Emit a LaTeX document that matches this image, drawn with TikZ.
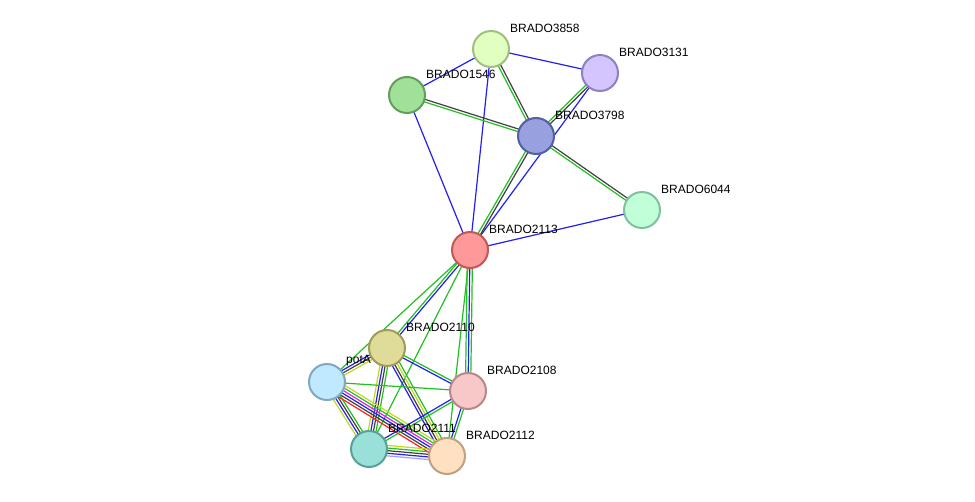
\documentclass[tikz,border=0pt]{standalone}
\usepackage{fontspec}
\setmainfont{Liberation Sans}
\usetikzlibrary{calc,backgrounds}
\definecolor{Ered}{HTML}{FF2020}
\definecolor{Eyel}{HTML}{C0D820}
\definecolor{Egre}{HTML}{20C020}
\definecolor{Eblu}{HTML}{2020F0}
\definecolor{Elbl}{HTML}{A0A0FF}
\definecolor{Emag}{HTML}{E020E0}
\definecolor{Eblk}{HTML}{404040}
% node fill / border
\definecolor{Fa}{HTML}{E0FFC0}\definecolor{Da}{HTML}{A0C080}
\definecolor{Fb}{HTML}{D4C4FF}\definecolor{Db}{HTML}{9080C0}
\definecolor{Fc}{HTML}{A0E098}\definecolor{Dc}{HTML}{60A058}
\definecolor{Fd}{HTML}{98A0E0}\definecolor{Dd}{HTML}{5060A0}
\definecolor{Fe}{HTML}{C0FFD8}\definecolor{De}{HTML}{80C0A0}
\definecolor{Ff}{HTML}{FF9898}\definecolor{Df}{HTML}{C05858}
\definecolor{Fg}{HTML}{DEDC98}\definecolor{Dg}{HTML}{A09C58}
\definecolor{Fh}{HTML}{C0E8FF}\definecolor{Dh}{HTML}{80A8C0}
\definecolor{Fi}{HTML}{F8C8C8}\definecolor{Di}{HTML}{B88888}
\definecolor{Fj}{HTML}{98E0D8}\definecolor{Dj}{HTML}{58A098}
\definecolor{Fk}{HTML}{FFE0C0}\definecolor{Dk}{HTML}{C0A080}
\tikzset{
  prot/.style={circle, minimum size=36pt, inner sep=0pt, line width=2pt, fill=F#1, draw=D#1},
  lbl/.style={font=\fontsize{12}{14}\selectfont, anchor=south west, inner sep=0pt}
}
% parallel links between two proteins
\newcommand\plink[3]{%
  \foreach \cc [count=\i] in {#3} {
    \pgfmathsetmacro\off{(\i-(\numcol+1)/2)*2.6}
    \draw[\cc, line width=1.2pt] ($(#1)!\off pt!90:(#2)$) -- ($(#2)!\off pt!-90:(#1)$);
  }}
\newcommand\link[3]{%
  \def\numcol{0}\foreach \cc in {#3}{\xdef\numcol{\the\numexpr\numcol+1}}%
  \plink{#1}{#2}{#3}}
\begin{document}
\begin{tikzpicture}[x=1pt, y=-1pt]
 \useasboundingbox (0,0) rectangle (975,502);

 %%%%%%%%%% Proteins %%%%%%%%%%
 \node[prot=a] (b3858) at (491,49) {};
 \node[prot=b] (b3131) at (600,73) {};
 \node[prot=c] (b1546) at (407,95) {};
 \node[prot=d] (b3798) at (536,136) {};
 \node[prot=e] (b6044) at (642,210) {};
 \node[prot=f] (b2113) at (470,250) {};
 \node[prot=g] (b2110) at (387,348) {};
 \node[prot=h] (potA) at (327,382) {};
 \node[prot=i] (b2108) at (468,391) {};
 \node[prot=j] (b2111) at (369,449) {};
 \node[prot=k] (b2112) at (447,456) {};

 %%%%%%%%%% Labels %%%%%%%%%%
 \node[lbl] at (510,33) {BRADO3858};
 \node[lbl] at (619,57) {BRADO3131};
 \node[lbl] at (426,79) {BRADO1546};
 \node[lbl] at (555,120) {BRADO3798};
 \node[lbl] at (661,194) {BRADO6044};
 \node[lbl] at (489,234) {BRADO2113};
 \node[lbl] at (406,332) {BRADO2110};
 \node[lbl] at (346,366) {potA};
 \node[lbl] at (487,375) {BRADO2108};
 \node[lbl] at (388,433) {BRADO2111};
 \node[lbl] at (466,440) {BRADO2112};

 %%%%%%%%%% Links %%%%%%%%%%
 \begin{scope}[on background layer]
 \link{b3858}{b1546}{Eblu}
 \link{b3858}{b3131}{Eblu}
 \link{b3858}{b3798}{Egre,Eblk}
 \link{b3858}{b2113}{Eblu}
 \link{b1546}{b3798}{Egre,Eblk}
 \link{b1546}{b2113}{Eblu}
 \link{b3131}{b3798}{Egre,Eblk}
 \link{b3131}{b2113}{Eblu}
 \link{b3798}{b6044}{Egre,Eblk}
 \link{b3798}{b2113}{Egre,Eblk}
 \link{b6044}{b2113}{Eblu}
 \link{b2113}{b2110}{Egre,Eblu}
 \link{b2113}{potA}{Egre}
 \link{b2113}{b2108}{Egre,Eblu,Egre}
 \link{b2113}{b2111}{Egre}
 \link{b2113}{b2112}{Egre}
 \link{b2110}{potA}{Eblu,Eblk,Eyel}
 \link{b2110}{b2108}{Eblu,Egre}
 \link{b2110}{b2111}{Eyel,Eblu,Eblk,Egre}
 \link{b2110}{b2112}{Eblu,Eblk,Eyel,Egre}
 \link{potA}{b2108}{Egre}
 \link{potA}{b2111}{Eyel,Eblu,Eblk,Egre}
 \link{potA}{b2112}{Ered,Eblk,Eblu,Emag,Egre,Eyel}
 \link{b2108}{b2111}{Eblu,Egre}
 \link{b2108}{b2112}{Eblu,Egre}
 \link{b2111}{b2112}{Elbl,Eblu,Eblk,Egre,Eyel}
 \end{scope}
\end{tikzpicture}
\end{document}
